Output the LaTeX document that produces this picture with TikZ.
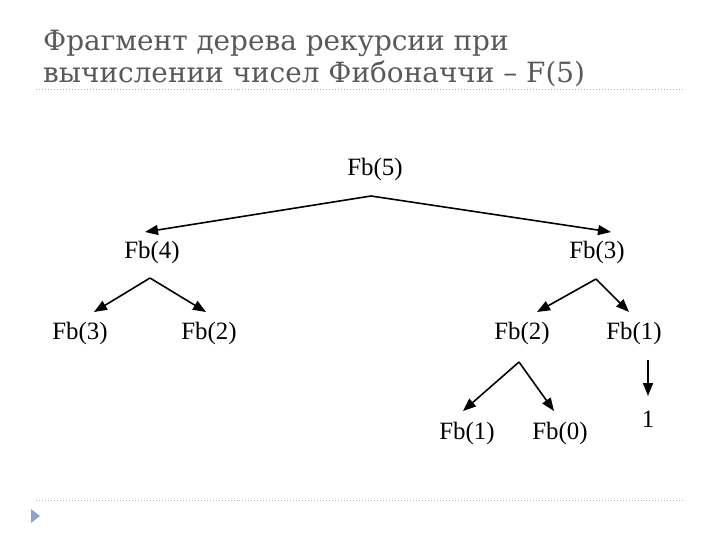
\documentclass[tikz,border=0pt]{standalone}
\usepackage{fontspec}
\setmainfont{Liberation Serif}
\newfontfamily\titlefont{DejaVu Serif}
\usetikzlibrary{arrows.meta}
\definecolor{titlegray}{HTML}{595959}
\definecolor{rulegray}{HTML}{B4B4B4}
\definecolor{bulletblue}{HTML}{8FA2C4}
\begin{document}
\begin{tikzpicture}[x=1bp,y=-1bp]
		  \tikzset{fb/.style={font=\fontsize{25}{28}\selectfont},
		           call/.style={line width=1.6bp,-{Triangle[length=13bp,width=10bp]}},
		           rule/.style={rulegray,line width=1bp,dotted}}
		  \useasboundingbox (0,0) rectangle (720,540);
		
		  % title
		  \node[anchor=base west,titlegray,align=left,inner sep=0pt,
		        font=\titlefont\fontsize{28}{33}\selectfont] (title) at (43,83)
		        {Фрагмент дерева рекурсии при\\вычислении чисел Фибоначчи – F(5)};
		  \draw[rule] (36,90) -- (684,90);
		  \draw[rule] (36,500) -- (684,500);
		  \fill[bulletblue] (31,509) -- (40,516) -- (31,523) -- cycle;
		
		  % tree
		  \node[fb] (f5) at (375,170) {Fb(5)};
		  \node[fb] (f4) at (152,253) {Fb(4)};
		  \node[fb] (f3r) at (597,253) {Fb(3)};
		  \node[fb] (f3l) at (80,334) {Fb(3)};
		  \node[fb] (f2l) at (209,334) {Fb(2)};
		  \node[fb] (f2r) at (522,334) {Fb(2)};
		  \node[fb] (f1r) at (634,334) {Fb(1)};
		  \node[fb] (f1) at (467,434) {Fb(1)};
		  \node[fb] (f0) at (560,434) {Fb(0)};
		  \node[fb] (one) at (648,419) {1};
		
		  \coordinate (s5) at (371,196);
		  \coordinate (s4) at (150,278);
		  \coordinate (s3) at (596,279);
		  \coordinate (s2) at (519,362);
		  \coordinate (s1) at (648,360);
		  \coordinate (e1) at (648,396);
		
		  \draw[call] (s5) -- (145,232);
		  \draw[call] (s5) -- (611,232);
		  \draw[call] (s4) -- (94,312);
		  \draw[call] (s4) -- (206,312);
		  \draw[call] (s3) -- (537,312);
		  \draw[call] (s3) -- (629,312);
		  \draw[call] (s2) -- (463,411);
		  \draw[call] (s2) -- (554,411);
		  \draw[call] (s1) -- (e1);
		\end{tikzpicture}
\end{document}
